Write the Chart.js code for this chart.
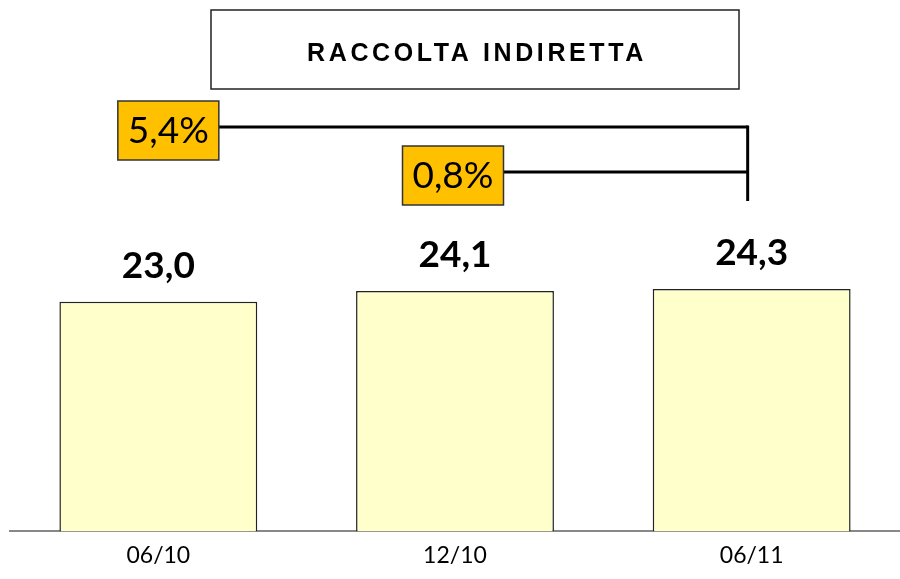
<!DOCTYPE html>
<html>
<head>
<meta charset="utf-8">
<script src="https://cdn.jsdelivr.net/npm/chart.js@4/dist/chart.umd.min.js"></script>
<style>
  html, body { margin: 0; padding: 0; background: #fff; }
  #wrap { width: 900px; height: 579px; position: relative; }
</style>
</head>
<body>
<div id="wrap"><canvas id="chart"></canvas></div>
<script>
const periods = ["06/10", "12/10", "06/11"]
const values = [23.0, 24.1, 24.3]
const growthLabels = ["5,4%", "0,8%"]
const growthFrom = [0, 1]   // each growth is measured from this bar to the last one
const title = "RACCOLTA INDIRETTA"

const fmt = v => v.toFixed(1).replace(".", ",")

const overlay = {
    id: "overlay",
    afterDraw(chart) {
        const ctx = chart.ctx
        ctx.save()

        // title box
        ctx.fillStyle = "#fff"
        ctx.strokeStyle = "#222"
        ctx.lineWidth = 1.5
        ctx.fillRect(211, 10, 528, 79)
        ctx.strokeRect(211, 10, 528, 79)
        ctx.fillStyle = "#000"
        ctx.font = "bold 25px 'Liberation Sans', Arial, sans-serif"
        ctx.letterSpacing = "3.6px"
        ctx.textAlign = "center"
        ctx.textBaseline = "alphabetic"
        ctx.fillText(title, 477, 61)
        ctx.letterSpacing = "0px"

        // value labels above bars
        const meta = chart.getDatasetMeta(0)
        ctx.font = "bold 37px Lato, 'Open Sans', sans-serif"
        meta.data.forEach((bar, i) => {
            ctx.fillText(fmt(values[i]), bar.x, bar.y - 24)
        })

        // growth brackets
        const last = meta.data[meta.data.length - 1]
        const vx = last.x - 4
        const rows = [127, 172]
        ctx.strokeStyle = "#000"
        ctx.lineWidth = 3
        ctx.beginPath()
        ctx.moveTo(vx, rows[0] - 1.5)
        ctx.lineTo(vx, 201)
        ctx.stroke()
        growthLabels.forEach((lbl, i) => {
            const bx = meta.data[growthFrom[i]].x + [10, -2][i]
            const by = rows[i]
            const w = 101, h = 59
            ctx.strokeStyle = "#000"
            ctx.lineWidth = 3
            ctx.beginPath()
            ctx.moveTo(bx + w / 2, by)
            ctx.lineTo(vx, by)
            ctx.stroke()
            ctx.fillStyle = "#FFC000"
            ctx.fillRect(bx - w / 2, by - 26, w, h)
            ctx.strokeStyle = "#333"
            ctx.lineWidth = 1.5
            ctx.strokeRect(bx - w / 2, by - 26, w, h)
            ctx.fillStyle = "#000"
            ctx.font = "37px Lato, 'Open Sans', sans-serif"
            ctx.textAlign = "center"
            ctx.textBaseline = "middle"
            ctx.fillText(lbl, bx, by + 4)
        })
        ctx.restore()
    }
}

new Chart(document.getElementById("chart"), {
    type: "bar",
    data: {
        labels: periods,
        datasets: [{
            data: values,
            backgroundColor: "#FFFFCC",
            borderColor: "#222",
            borderWidth: 1.5,
            categoryPercentage: 1,
            barPercentage: 0.667
        }]
    },
    options: {
        responsive: true,
        maintainAspectRatio: false,
        animation: false,
        layout: { padding: { top: 232, left: 10, right: 0, bottom: 0 } },
        plugins: { legend: { display: false }, tooltip: { enabled: false } },
        scales: {
            x: {
                grid: { display: false, drawTicks: false },
                border: { color: "#888", width: 2 },
                ticks: { color: "#000", padding: 13, font: { family: "Lato, 'Open Sans', sans-serif", size: 23, lineHeight: 0.94 } }
            },
            y: { display: false, min: 0, max: 30 }
        }
    },
    plugins: [overlay]
})
</script>
</body>
</html>
